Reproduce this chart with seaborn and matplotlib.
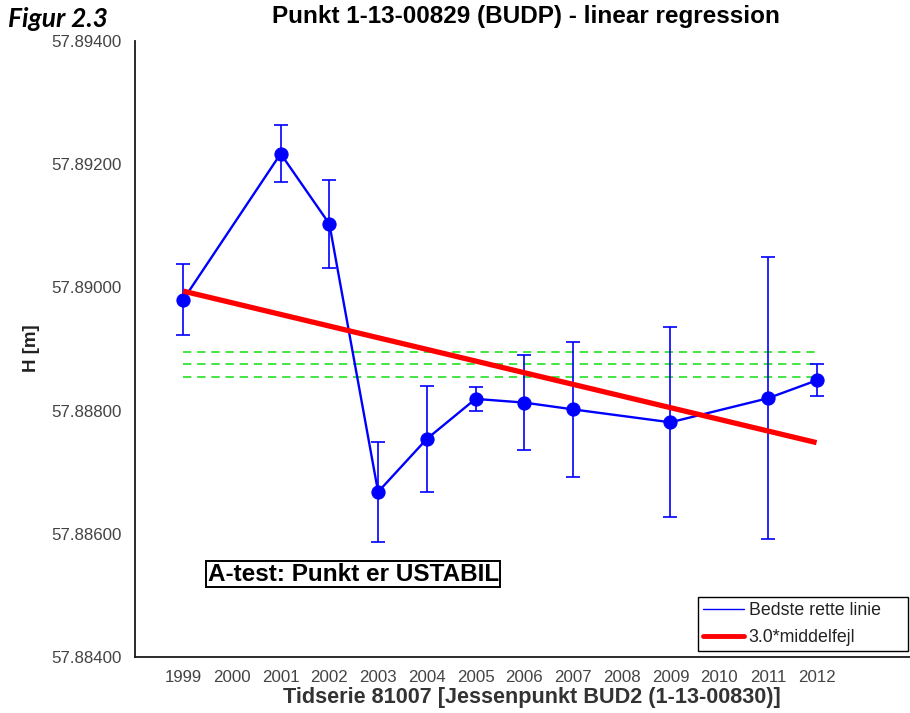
import matplotlib
matplotlib.use("Agg")
import matplotlib.pyplot as plt
from matplotlib.lines import Line2D
import seaborn as sns
import pandas as pd

# Levelling time series for point 1-13-00829 (BUDP)
years = [1999, 2001, 2002, 2003, 2004, 2005, 2006, 2007, 2009, 2011, 2012]
heights = [57.88980, 57.89217, 57.89103, 57.88668, 57.88754, 57.88819,
           57.88813, 57.88802, 57.88781, 57.88820, 57.88849]
errors = [0.00058, 0.00046, 0.00072, 0.00081, 0.00086, 0.00020,
          0.00077, 0.00109, 0.00154, 0.00229, 0.00026]

# Fitted regression line (start / end)
trend_years = [1999, 2012]
trend_heights = [57.88994, 57.88748]

# Horizontal reference levels
levels = [57.88895, 57.88875, 57.88855]

tick_years = list(range(1999, 2013))
ytick_values = [57.884, 57.886, 57.888, 57.890, 57.892, 57.894]

sns.set_style("white")
plt.rcParams["font.family"] = ["Liberation Sans", "DejaVu Sans"]

BLUE = "#0000ff"
RED = "#ff0000"
GREEN = "#22e022"

W, H = 910, 713
fig = plt.figure(figsize=(W / 100, H / 100), dpi=100)
ax_left, ax_right = 134.5, 914.0
ax_top, ax_bottom = 41.0, 657.0
ax = fig.add_axes([ax_left / W, 1 - ax_bottom / H,
                   (ax_right - ax_left) / W, (ax_bottom - ax_top) / H])

df = pd.DataFrame({"year": years, "H": heights, "err": errors})

# error bars
ax.errorbar(df["year"], df["H"], yerr=df["err"], fmt="none",
            ecolor=BLUE, elinewidth=1.2, capsize=4.8, capthick=1.2, zorder=3)

# measured heights
sns.lineplot(data=df, x="year", y="H", ax=ax, color=BLUE, linewidth=1.7,
             marker="o", markersize=9.5, markeredgecolor=BLUE,
             markerfacecolor=BLUE, zorder=4, sort=False)

# reference levels
for lvl in levels:
    sns.lineplot(x=[tick_years[0], tick_years[-1]], y=[lvl, lvl], ax=ax,
                 color=GREEN, linewidth=1.2, linestyle=(0, (5, 3.5)), zorder=2)

# regression line
sns.lineplot(x=trend_years, y=trend_heights, ax=ax, color=RED,
             linewidth=3.8, zorder=5, solid_capstyle="butt")

ax.set_xlim(1998, 2014)
ax.set_ylim(57.884, 57.894)
ax.set_xticks(tick_years)
ax.set_xticklabels([str(y) for y in tick_years])
ax.set_yticks(ytick_values)
ax.set_yticklabels([f"{v:.5f}" for v in ytick_values])
ax.set_xlabel("")
ax.set_ylabel("")

for side in ("top", "right"):
    ax.spines[side].set_visible(False)
for side in ("left", "bottom"):
    ax.spines[side].set_color("#1a1a1a")
    ax.spines[side].set_linewidth(1.3)

ax.tick_params(axis="both", direction="in", length=5, width=1.2,
               colors="#1a1a1a", labelcolor="#444444", labelsize=12.2)
ax.tick_params(axis="x", pad=9)
ax.tick_params(axis="y", pad=9)

# status text
ax.text(0.094, 0.134, "A-test: Punkt er USTABIL", transform=ax.transAxes,
        ha="left", va="center", fontsize=17.5, fontweight="bold",
        color="black",
        bbox=dict(boxstyle="square,pad=0.06", facecolor="white",
                  edgecolor="black", linewidth=1.4), zorder=6)

# legend, stretched to the right edge of the figure
handles = [Line2D([0], [0], color=BLUE, linewidth=1.0),
           Line2D([0], [0], color=RED, linewidth=3.5)]
leg = ax.legend(handles, ["Bedste rette linie", "3.0*middelfejl"],
                loc="upper left",
                bbox_to_anchor=(698 / W, 1 - 651 / H, 210 / W, 54 / H),
                bbox_transform=fig.transFigure, borderaxespad=0,
                mode="expand", fontsize=12.8, handlelength=2.3,
                handletextpad=0.25, borderpad=0.3, labelspacing=0.55,
                fancybox=False, framealpha=1, edgecolor="black",
                frameon=True)
leg.get_frame().set_linewidth(1.0)
for t in leg.get_texts():
    t.set_color("#222222")

fig.text(0.578, 1 - 16 / H, "Punkt 1-13-00829 (BUDP) - linear regression",
         ha="center", va="center", fontsize=17.5, fontweight="bold",
         color="black")
fig.text(532 / W, 1 - 698 / H, "Tidserie 81007 [Jessenpunkt BUD2 (1-13-00830)]",
         ha="center", va="center", fontsize=15.6, fontweight="bold",
         color="#333333")
fig.text(32 / W, 1 - 348 / H, "H [m]", ha="center", va="center",
         rotation=90, fontsize=13.5, fontweight="bold", color="#222222")
fig.text(8 / W, 1 - 19 / H, "Figur 2.3", ha="left", va="center",
         fontsize=19, fontweight="bold", fontstyle="italic",
         family=["Lato", "DejaVu Sans"], color="black")

fig.savefig("out.png", dpi=100)
